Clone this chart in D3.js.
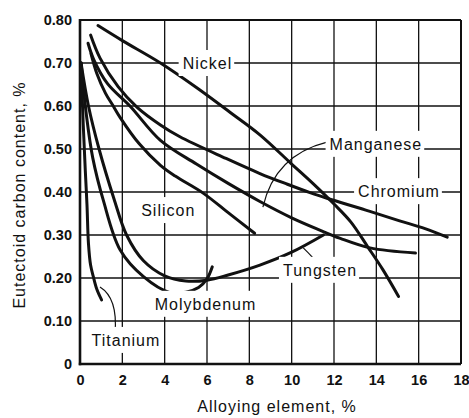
<!DOCTYPE html>
<html>
<head>
<meta charset="utf-8">
<script src="https://cdn.jsdelivr.net/npm/d3@7"></script>
<style>
  html, body { margin: 0; padding: 0; background: #fff; }
  svg { display: block; }
  .tick-label { font-family: "Liberation Sans", Arial, sans-serif; font-weight: bold; font-size: 14.5px; fill: #111; }
  .curve-label, .axis-title { font-family: "Liberation Sans", Arial, sans-serif; font-size: 16px; letter-spacing: 1px; fill: #111; }
</style>
</head>
<body>
<svg id="chart" width="469" height="418"></svg>
<script>
// Eutectoid carbon content vs. alloying element content, [% alloy, % C]
const nickel = [[0.85,0.787],[2,0.752],[3.8,0.70],[5.5,0.643],[7.1,0.585],[8.5,0.533],[10,0.465],[11,0.42],[12,0.372],[12.8,0.33],[13.6,0.272],[14.3,0.22],[15.05,0.157]];
const chromium = [[0.5,0.765],[0.94,0.712],[1.8,0.645],[2.7,0.597],[3.8,0.556],[4.7,0.529],[6.9,0.478],[8.5,0.443],[9.8,0.418],[10.9,0.398],[11.7,0.385],[13.5,0.358],[15.1,0.333],[16.3,0.315],[17.35,0.295]];
const manganese = [[0.38,0.746],[0.65,0.708],[1.3,0.652],[2.36,0.60],[3.8,0.52],[5.5,0.465],[7,0.42],[8.5,0.378],[10,0.34],[11.3,0.312],[12.3,0.292],[13.7,0.27],[15.85,0.258]];
const silicon = [[0.52,0.722],[0.8,0.675],[1.2,0.63],[1.57,0.60],[1.9,0.573],[2.8,0.512],[3.8,0.462],[4.5,0.437],[5.8,0.398],[7,0.352],[8.25,0.304]];
const tungsten = [[0.05,0.70],[0.4,0.60],[0.9,0.50],[1.6,0.385],[2.2,0.30],[3,0.24],[4,0.205],[5,0.193],[6,0.195],[7,0.207],[8.5,0.23],[10,0.26],[11.5,0.30]];
const molybdenum = [[0.05,0.70],[0.3,0.58],[0.6,0.48],[1.1,0.381],[1.9,0.265],[3,0.203],[4.25,0.166],[5,0.167],[5.6,0.178],[6.0,0.198],[6.25,0.226]];
const titanium = [[0.05,0.70],[0.15,0.56],[0.25,0.45],[0.33,0.37],[0.4,0.28],[0.5,0.23],[0.63,0.203],[0.8,0.173],[1.02,0.149]];

const xTicks = [0, 2, 4, 6, 8, 10, 12, 14, 16, 18];
const yTicks = [0, 0.1, 0.2, 0.3, 0.4, 0.5, 0.6, 0.7, 0.8];
const yTickLabels = ["0", "0.10", "0.20", "0.30", "0.40", "0.50", "0.60", "0.70", "0.80"];

const xTitle = "Alloying element, %";
const yTitle = "Eutectoid carbon content, %";

// curve name labels, anchored at text centre in data units
const labels = [
  { text: "Nickel", x: 6.02, y: 0.700 },
  { text: "Manganese", x: 13.98, y: 0.512 },
  { text: "Chromium", x: 15.07, y: 0.402 },
  { text: "Silicon", x: 4.17, y: 0.358 },
  { text: "Tungsten", x: 11.34, y: 0.219 },
  { text: "Molybdenum", x: 5.93, y: 0.140 },
  { text: "Titanium", x: 2.17, y: 0.056 }
];

// leader lines: start, control, end (data units)
const leaders = [
  [[11.67, 0.516], [9.21, 0.486], [8.64, 0.365]],
  [[11.02, 0.246], [10.72, 0.262], [10.55, 0.270]],
  [[0.945, 0.179], [1.795, 0.153], [1.653, 0.072]]
];

const series = [nickel, chromium, manganese, silicon, tungsten, molybdenum, titanium];

const svg = d3.select("#chart");
const plotLeft = 80, plotTop = 20, plotRight = 461, plotBottom = 364;

const x = d3.scaleLinear().domain([0, 18]).range([plotLeft, plotRight]);
const y = d3.scaleLinear().domain([0, 0.8]).range([plotBottom, plotTop]);

// grid
const grid = svg.append("g").attr("stroke", "#111").attr("stroke-width", 1.3);
grid.selectAll("line.v").data(xTicks.filter(d => d > 0 && d < 18)).join("line")
  .attr("x1", d => x(d)).attr("x2", d => x(d)).attr("y1", y(0)).attr("y2", y(0.8));
grid.selectAll("line.h").data(yTicks.filter(d => d > 0 && d < 0.8)).join("line")
  .attr("y1", d => y(d)).attr("y2", d => y(d)).attr("x1", x(0)).attr("x2", x(18));

// frame
const frame = svg.append("g").attr("stroke", "#111").attr("fill", "none");
frame.append("line").attr("x1", x(0)).attr("x2", x(18)).attr("y1", y(0.8)).attr("y2", y(0.8)).attr("stroke-width", 2);
frame.append("line").attr("x1", x(18)).attr("x2", x(18)).attr("y1", y(0.8)).attr("y2", y(0)).attr("stroke-width", 2);
frame.append("line").attr("x1", x(0)).attr("x2", x(0)).attr("y1", y(0.8) - 1).attr("y2", y(0) + 1.2).attr("stroke-width", 2.6);
frame.append("line").attr("x1", x(0) - 1.2).attr("x2", x(18)).attr("y1", y(0)).attr("y2", y(0)).attr("stroke-width", 2.6);

// white boxes behind curve labels interrupt the grid
const labelG = svg.append("g");
const texts = labelG.selectAll("text").data(labels).join("text")
  .attr("class", "curve-label")
  .attr("x", d => x(d.x)).attr("y", d => y(d.y))
  .attr("dy", "0.36em")
  .attr("text-anchor", "middle")
  .text(d => d.text);
texts.each(function () {
  const b = this.getBBox();
  labelG.insert("rect", "text")
    .attr("x", b.x - 4).attr("width", b.width + 6)
    .attr("y", +this.getAttribute("y") - 13).attr("height", 26)
    .attr("fill", "#fff");
});

// curves
const line = d3.line().x(d => x(d[0])).y(d => y(d[1])).curve(d3.curveCatmullRom.alpha(0.5));
svg.append("g").selectAll("path").data(series).join("path")
  .attr("d", line)
  .attr("fill", "none").attr("stroke", "#111").attr("stroke-width", 3)
  .attr("stroke-linecap", "round").attr("stroke-linejoin", "round");

// leaders
svg.append("g").selectAll("path").data(leaders).join("path")
  .attr("d", d => {
    const p = d3.path();
    p.moveTo(x(d[0][0]), y(d[0][1]));
    p.quadraticCurveTo(x(d[1][0]), y(d[1][1]), x(d[2][0]), y(d[2][1]));
    return p.toString();
  })
  .attr("fill", "none").attr("stroke", "#111").attr("stroke-width", 1.2);

labelG.raise();

// axes (labels only)
const xAxis = d3.axisBottom(x).tickValues(xTicks).tickSize(0).tickPadding(11).tickFormat(d3.format("d"));
const gx = svg.append("g").attr("transform", `translate(0,${plotBottom})`).call(xAxis);
gx.select(".domain").remove();
gx.selectAll("text").attr("class", "tick-label").attr("font-family", null).attr("font-size", null);

const yAxis = d3.axisLeft(y).tickValues(yTicks).tickSize(0).tickPadding(8)
  .tickFormat((d, i) => yTickLabels[i]);
const gy = svg.append("g").attr("transform", `translate(${plotLeft},0)`).call(yAxis);
gy.select(".domain").remove();
gy.selectAll("text").attr("class", "tick-label").attr("font-family", null).attr("font-size", null);

// titles
svg.append("text").attr("class", "axis-title")
  .attr("x", 277).attr("y", 412).attr("text-anchor", "middle").text(xTitle);
svg.append("text").attr("class", "axis-title")
  .attr("transform", "translate(25,195) rotate(-90)")
  .attr("text-anchor", "middle").text(yTitle);
</script>
</body>
</html>
